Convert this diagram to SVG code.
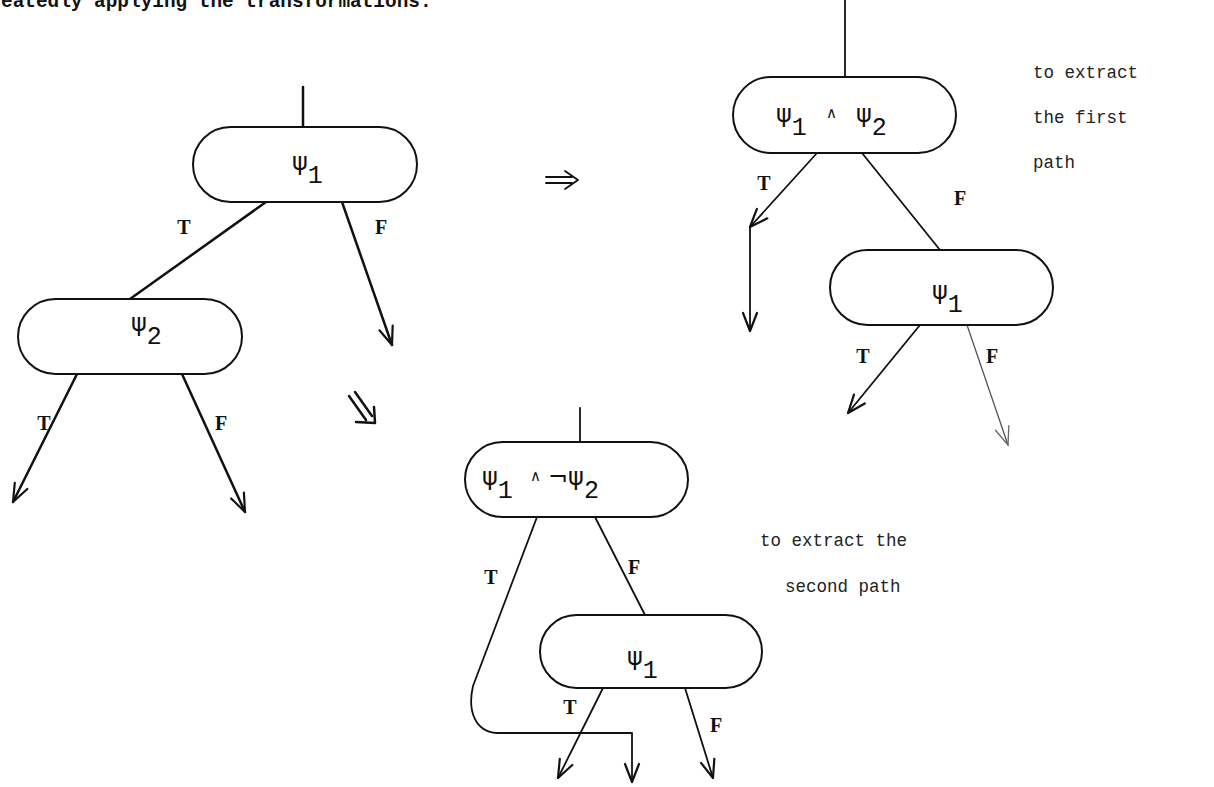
<svg xmlns="http://www.w3.org/2000/svg" width="1214" height="787" viewBox="0 0 1214 787">
  <defs>
    <style>
      .node { fill: #fff; stroke: #111; stroke-width: 2; }
      .edge { fill: none; stroke: #111; stroke-width: 2.5; stroke-linecap: round; stroke-linejoin: round; }
      .thin { stroke-width: 1.8; }
      .faint { stroke: #555; stroke-width: 1.3; }
      .psi { font-family: "DejaVu Sans", sans-serif; font-size: 24px; fill: #111; }
      .sub { font-family: "Liberation Mono", monospace; font-size: 25px; }
      .op { font-family: "DejaVu Sans", sans-serif; font-size: 15px; fill: #111; }
      .lbl { font-family: "Liberation Serif", serif; font-weight: bold; font-size: 20px; fill: #111; text-anchor: middle; dominant-baseline: central; }
      .note { font-family: "Liberation Mono", monospace; font-size: 17.5px; fill: #222; }
      .head { font-family: "Liberation Mono", monospace; font-weight: bold; font-size: 19.4px; fill: #111; }
    </style>
    <marker id="arrow" viewBox="-20 -10 22 20" refX="0" refY="0" markerWidth="22" markerHeight="20" markerUnits="userSpaceOnUse" orient="auto">
      <path d="M-18,-7 L0,0 L-18,7" fill="none" stroke="#111" stroke-width="2.2" stroke-linecap="round" stroke-linejoin="round"/>
    </marker>
    <marker id="arrowFaint" viewBox="-20 -10 22 20" refX="0" refY="0" markerWidth="22" markerHeight="20" markerUnits="userSpaceOnUse" orient="auto">
      <path d="M-18,-7 L0,0 L-18,7" fill="none" stroke="#666" stroke-width="1.3" stroke-linecap="round"/>
    </marker>
  </defs>

  <rect width="1214" height="787" fill="#fff"/>

  <!-- running text cut by the top edge -->
  <text class="head" x="1" y="7">eatedly applying the transformations:</text>

  <!-- connectors -->
  <g id="connectors">
    <!-- left tree -->
    <line class="edge" x1="303" y1="87" x2="303" y2="127"/>
    <line class="edge" x1="266" y1="202" x2="130" y2="299"/>
    <line class="edge" x1="342" y1="202" x2="392" y2="345" marker-end="url(#arrow)"/>
    <line class="edge" x1="77" y1="374" x2="13" y2="502" marker-end="url(#arrow)"/>
    <line class="edge" x1="182" y1="374" x2="245" y2="512" marker-end="url(#arrow)"/>

    <!-- transformation arrows -->
    <path class="edge thin" d="M546,177 L572,177 M546,183 L572,183 M565,171 L578,180 L565,189"/>
    <path class="edge" d="M349,396 L366,420 M355,392 L372,416 M356,422 L375,423 L374,407"/>

    <!-- upper right tree -->
    <line class="edge thin" x1="845" y1="0" x2="845" y2="77"/>
    <line class="edge thin" x1="817" y1="153" x2="750" y2="227" marker-end="url(#arrow)"/>
    <line class="edge thin" x1="750" y1="227" x2="750" y2="331" marker-end="url(#arrow)"/>
    <line class="edge thin" x1="862" y1="153" x2="940" y2="250"/>
    <line class="edge thin" x1="920" y1="325" x2="848" y2="413" marker-end="url(#arrow)"/>
    <line class="edge faint" x1="967" y1="325" x2="1008" y2="445" marker-end="url(#arrowFaint)"/>

    <!-- lower tree -->
    <line class="edge thin" x1="580" y1="408" x2="580" y2="442"/>
    <path class="edge thin" d="M537,517 L473,686 C467,712 476,732 497,733 L632,733 L632,782" marker-end="url(#arrow)"/>
    <line class="edge thin" x1="595" y1="517" x2="645" y2="615"/>
    <line class="edge thin" x1="603" y1="688" x2="558" y2="778" marker-end="url(#arrow)"/>
    <line class="edge thin" x1="685" y1="688" x2="713" y2="778" marker-end="url(#arrow)"/>
  </g>

  <!-- branch labels -->
  <g id="labels">
    <text class="lbl" x="184" y="227">T</text>
    <text class="lbl" x="381" y="227">F</text>
    <text class="lbl" x="44" y="423">T</text>
    <text class="lbl" x="221" y="423">F</text>
    <text class="lbl" x="764" y="183">T</text>
    <text class="lbl" x="960" y="198">F</text>
    <text class="lbl" x="863" y="356">T</text>
    <text class="lbl" x="992" y="356">F</text>
    <text class="lbl" x="491" y="577">T</text>
    <text class="lbl" x="634" y="567">F</text>
    <text class="lbl" x="570" y="707">T</text>
    <text class="lbl" x="716" y="725">F</text>
  </g>

  <!-- nodes -->
  <g id="node-psi1">
    <rect class="node" x="193" y="127" width="224" height="75" rx="37.5"/>
    <text class="psi" x="292" y="170">ψ<tspan class="sub" dy="13">1</tspan></text>
  </g>
  <g id="node-psi2">
    <rect class="node" x="18" y="299" width="224" height="75" rx="37.5"/>
    <text class="psi" x="131" y="331">ψ<tspan class="sub" dy="13">2</tspan></text>
  </g>
  <g id="node-and">
    <rect class="node" x="733" y="77" width="223" height="76" rx="38"/>
    <text class="psi" x="776" y="122">ψ<tspan class="sub" dy="13">1</tspan></text>
    <text class="op" x="826" y="118">∧</text>
    <text class="psi" x="856" y="122">ψ<tspan class="sub" dy="13">2</tspan></text>
  </g>
  <g id="node-psi1-upper">
    <rect class="node" x="830" y="250" width="223" height="75" rx="37.5"/>
    <text class="psi" x="932" y="299">ψ<tspan class="sub" dy="13">1</tspan></text>
  </g>
  <g id="node-and-not">
    <rect class="node" x="465" y="442" width="223" height="75" rx="37.5"/>
    <text class="psi" x="482" y="485">ψ<tspan class="sub" dy="13">1</tspan></text>
    <text class="op" x="530" y="481">∧</text>
    <text class="psi" x="548" y="485">¬ψ<tspan class="sub" dy="13">2</tspan></text>
  </g>
  <g id="node-psi1-lower">
    <rect class="node" x="540" y="615" width="222" height="73" rx="36.5"/>
    <text class="psi" x="627" y="665">ψ<tspan class="sub" dy="13">1</tspan></text>
  </g>

  <!-- side notes -->
  <g id="notes">
    <text class="note" x="1033" y="78">to extract</text>
    <text class="note" x="1033" y="123">the first</text>
    <text class="note" x="1033" y="168">path</text>
    <text class="note" x="760" y="546">to extract the</text>
    <text class="note" x="785" y="592">second path</text>
  </g>
</svg>
